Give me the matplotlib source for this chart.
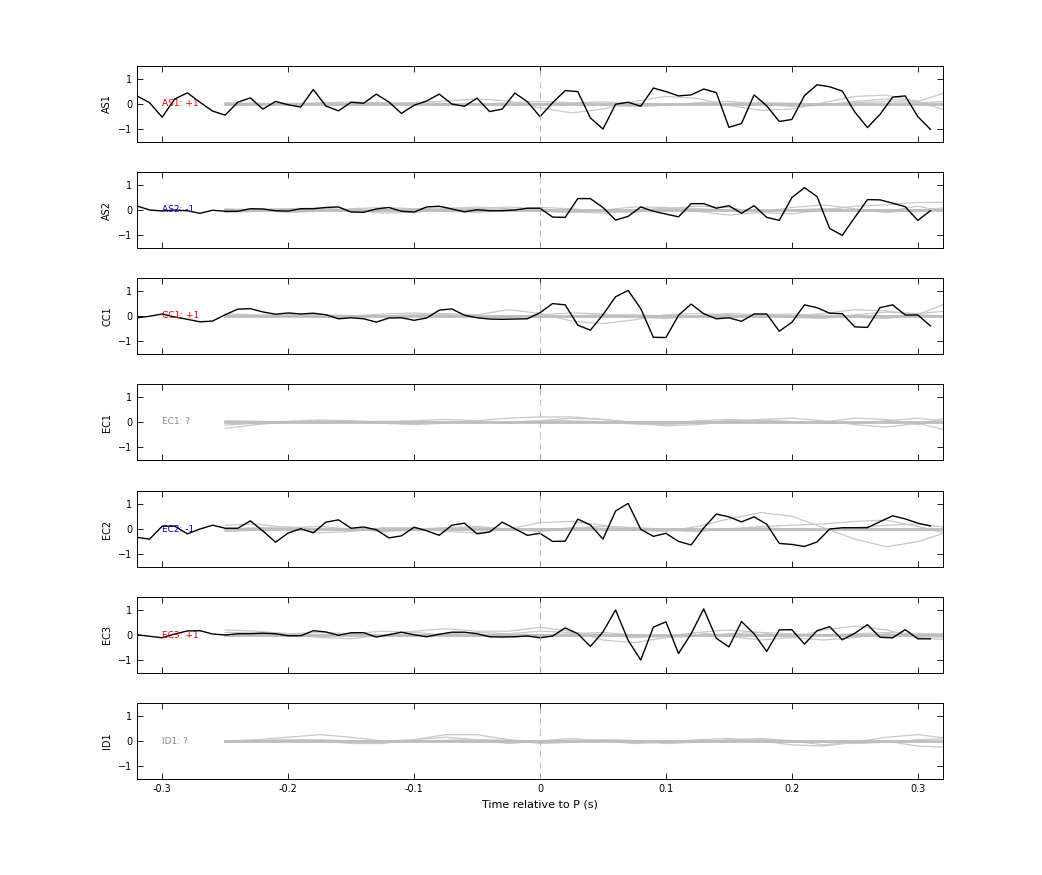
import numpy as np
import matplotlib.pyplot as plt

# black traces, one sample every 0.01 s from -0.32 to 0.31
t = np.round(np.arange(-0.32, 0.315, 0.01), 3)
gt = np.round(np.arange(-0.25, 0.33, 0.025), 3)   # grid for the grey traces

stations = ["AS1", "AS2", "CC1", "EC1", "EC2", "EC3", "ID1"]
labels = ["AS1: +1", "AS2: -1", "CC1: +1", "EC1: ?", "EC2: -1", "EC3: +1", "ID1: ?"]
label_colors = ["#dd0000", "#0000cc", "#dd0000", "#888888", "#0000cc", "#dd0000", "#888888"]

as1 = [0.32, 0.05, -0.52, 0.2, 0.44, 0.07, -0.28, -0.44, 0.07, 0.24, -0.2, 0.1, -0.03, -0.12, 0.57, -0.08,
       -0.27, 0.07, 0.03, 0.39, 0.08, -0.37, -0.05, 0.12, 0.39, 0.0, -0.09, 0.23, -0.3, -0.2, 0.43, 0.09,
       -0.5, 0.05, 0.53, 0.49, -0.55, -0.99, -0.01, 0.07, -0.09, 0.63, 0.49, 0.32, 0.36, 0.59, 0.45, -0.92,
       -0.77, 0.36, -0.07, -0.69, -0.61, 0.33, 0.76, 0.68, 0.51, -0.32, -0.93, -0.41, 0.27, 0.32, -0.5, -1.0]
as2 = [0.16, 0.0, -0.04, 0.0, -0.03, -0.13, -0.01, -0.05, -0.05, 0.05, 0.04, -0.03, -0.04, 0.05, 0.05, 0.1,
       0.12, -0.08, -0.09, 0.04, 0.1, -0.05, -0.08, 0.12, 0.15, 0.04, -0.07, 0.01, -0.03, -0.03, 0.0, 0.07,
       0.07, -0.28, -0.29, 0.45, 0.45, 0.1, -0.4, -0.25, 0.12, -0.05, -0.16, -0.27, 0.25, 0.25, 0.07, 0.17,
       -0.13, 0.17, -0.29, -0.41, 0.49, 0.88, 0.53, -0.73, -1.0, -0.29, 0.41, 0.4, 0.27, 0.13, -0.41, -0.03]
cc1 = [-0.07, -0.01, 0.08, -0.04, -0.13, -0.23, -0.2, 0.05, 0.27, 0.29, 0.16, 0.07, 0.12, 0.08, 0.11, 0.05,
       -0.11, -0.07, -0.11, -0.24, -0.08, -0.07, -0.17, -0.08, 0.23, 0.28, 0.03, -0.07, -0.12, -0.13, -0.12, -0.11,
       0.13, 0.49, 0.44, -0.36, -0.56, 0.05, 0.76, 1.01, 0.29, -0.84, -0.85, 0.03, 0.47, 0.09, -0.11, -0.07,
       -0.21, 0.08, 0.08, -0.6, -0.25, 0.44, 0.33, 0.11, 0.09, -0.43, -0.45, 0.33, 0.44, 0.04, 0.04, -0.39]
ec2 = [-0.33, -0.4, 0.11, 0.11, -0.19, 0.0, 0.15, 0.03, 0.03, 0.32, -0.08, -0.52, -0.16, 0.01, -0.15, 0.27,
       0.36, 0.03, 0.08, -0.03, -0.35, -0.27, 0.07, -0.07, -0.25, 0.15, 0.23, -0.19, -0.12, 0.27, 0.01, -0.25,
       -0.17, -0.49, -0.48, 0.39, 0.16, -0.4, 0.71, 1.01, -0.01, -0.29, -0.17, -0.49, -0.63, 0.04, 0.59, 0.48,
       0.28, 0.48, 0.19, -0.57, -0.61, -0.69, -0.51, 0.0, 0.05, 0.05, 0.05, 0.29, 0.52, 0.4, 0.23, 0.12]
ec3 = [0.01, -0.05, -0.11, 0.04, 0.16, 0.17, 0.04, 0.0, 0.05, 0.05, 0.07, 0.05, -0.03, -0.03, 0.17, 0.12,
       -0.01, 0.09, 0.09, -0.08, 0.01, 0.11, 0.01, -0.07, 0.03, 0.11, 0.11, 0.05, -0.07, -0.08, -0.07, -0.04,
       -0.11, -0.04, 0.28, 0.05, -0.45, 0.12, 0.99, -0.21, -0.99, 0.31, 0.52, -0.73, 0.05, 1.03, -0.13, -0.47,
       0.53, 0.05, -0.65, 0.2, 0.21, -0.36, 0.17, 0.33, -0.19, 0.07, 0.41, -0.09, -0.11, 0.21, -0.15, -0.15]
black = [as1, as2, cc1, None, ec2, ec3, None]

# grey traces (other events), sampled every 0.025 s from -0.25
grey = {
    "AS1": [[0.0, 0.02, 0.03, 0.0, -0.05, -0.02, 0.05, 0.12, 0.2, 0.12, -0.15, -0.35, -0.2, 0.1, 0.3, 0.22, -0.05, -0.25, -0.2, 0.05, 0.3, 0.35, 0.1, -0.3],
            [-0.05, -0.03, 0.0, 0.05, 0.08, 0.05, 0.0, -0.05, -0.02, 0.05, 0.1, 0.05, -0.05, -0.1, -0.05, 0.05, 0.1, 0.0, -0.1, -0.05, 0.1, 0.2, 0.1, 0.5],
            [0.05, 0.03, 0.0, -0.02, 0.0, 0.03, 0.05, 0.02, -0.03, -0.05, 0.0, 0.05, 0.08, 0.03, -0.02, -0.03, 0.02, 0.05, 0.03, 0.0, 0.05, 0.1, 0.05, 0.1]],
    "AS2": [[0.05, 0.0, -0.1, -0.05, 0.05, 0.1, 0.05, -0.05, -0.1, 0.0, 0.1, 0.05, -0.05, -0.1, 0.05, 0.15, 0.1, -0.1, -0.15, 0.0, 0.15, 0.2, 0.3, 0.3],
            [-0.1, -0.05, 0.05, 0.08, 0.0, -0.12, -0.1, 0.05, 0.12, 0.05, -0.05, -0.1, 0.0, 0.12, 0.1, -0.05, -0.2, -0.1, 0.1, 0.2, 0.05, -0.1, 0.0, 0.1],
            [0.0, 0.03, 0.05, 0.0, -0.05, 0.0, 0.05, 0.08, 0.05, 0.12, 0.05, -0.08, -0.12, -0.02, 0.08, 0.05, 0.0, -0.05, 0.0, 0.05, 0.0, -0.05, 0.15, -0.1]],
    "CC1": [[0.0, 0.02, 0.05, 0.02, -0.03, 0.0, 0.05, 0.1, 0.05, 0.25, 0.1, -0.2, -0.3, -0.15, 0.05, 0.1, 0.05, -0.05, 0.0, 0.1, 0.25, 0.2, 0.05, 0.55],
            [0.08, 0.05, 0.0, -0.05, 0.0, 0.08, 0.12, 0.05, -0.05, -0.05, 0.05, 0.12, 0.08, -0.05, -0.1, 0.0, 0.1, 0.05, -0.05, -0.1, 0.05, 0.15, 0.1, 0.2],
            [-0.05, 0.0, 0.03, 0.05, 0.02, -0.02, 0.0, 0.03, 0.02, 0.0, -0.03, 0.0, 0.05, 0.05, 0.0, -0.05, 0.0, 0.05, 0.08, 0.03, -0.05, -0.1, 0.05, 0.0]],
    "EC1": [[-0.25, -0.1, 0.0, 0.05, 0.0, -0.05, -0.1, -0.05, 0.05, 0.15, 0.2, 0.2, 0.1, -0.05, -0.15, -0.1, 0.0, 0.1, 0.15, 0.05, -0.1, -0.2, -0.05, -0.35],
            [-0.12, -0.05, 0.03, 0.08, 0.05, 0.0, 0.05, 0.1, 0.05, -0.05, 0.05, 0.15, 0.1, 0.0, -0.05, 0.05, 0.1, 0.05, -0.05, 0.0, 0.15, 0.1, -0.1, 0.2],
            [0.05, 0.03, 0.0, -0.02, 0.0, 0.03, 0.02, 0.0, -0.03, 0.0, 0.05, 0.05, 0.0, -0.08, -0.1, -0.03, 0.05, 0.08, 0.02, -0.05, -0.05, 0.05, 0.15, 0.0]],
    "EC2": [[0.15, 0.2, 0.05, -0.15, -0.1, 0.05, 0.05, -0.1, -0.15, 0.0, 0.25, 0.3, 0.15, -0.05, -0.1, 0.1, 0.4, 0.65, 0.5, 0.05, -0.4, -0.7, -0.5, -0.1],
            [-0.1, -0.05, 0.05, 0.1, 0.0, -0.1, -0.05, 0.05, 0.1, 0.0, -0.1, 0.0, 0.1, 0.05, -0.05, -0.1, 0.0, 0.1, 0.15, 0.2, 0.3, 0.35, 0.1, -0.2],
            [0.0, 0.05, 0.08, 0.0, -0.05, -0.05, 0.0, 0.05, 0.05, 0.0, -0.05, 0.05, 0.1, 0.05, 0.0, -0.05, 0.0, 0.05, 0.0, -0.05, 0.05, 0.15, 0.2, 0.05]],
    "EC3": [[0.2, 0.15, 0.05, -0.1, -0.15, 0.0, 0.15, 0.25, 0.15, 0.15, 0.3, 0.15, -0.2, -0.3, -0.1, 0.1, -0.05, -0.2, -0.1, 0.2, 0.35, 0.2, -0.1, -0.2],
            [0.1, 0.1, 0.05, 0.0, 0.05, 0.15, 0.1, 0.0, -0.05, 0.05, 0.15, 0.1, 0.0, -0.1, -0.05, 0.1, 0.2, 0.1, -0.1, -0.2, -0.1, 0.05, -0.05, -0.1],
            [-0.05, 0.0, 0.05, 0.1, 0.05, -0.05, -0.05, 0.05, 0.1, 0.05, 0.0, 0.05, 0.1, 0.0, -0.1, -0.05, 0.05, 0.1, 0.05, 0.0, 0.05, 0.1, 0.05, 0.05]],
    "ID1": [[0.0, 0.05, 0.15, 0.25, 0.15, 0.0, 0.05, 0.25, 0.25, 0.05, -0.1, -0.05, 0.05, 0.0, -0.1, -0.05, 0.05, 0.1, 0.0, -0.15, -0.05, 0.15, 0.25, 0.1],
            [-0.05, 0.0, 0.05, 0.0, -0.1, -0.1, 0.05, 0.15, 0.05, -0.1, 0.0, 0.1, 0.0, -0.1, -0.05, 0.05, 0.1, 0.0, -0.15, -0.2, -0.05, 0.0, -0.2, -0.25],
            [0.0, 0.02, 0.05, 0.05, 0.0, -0.03, 0.0, 0.03, 0.05, 0.03, 0.0, 0.03, 0.05, 0.02, -0.03, -0.02, 0.03, 0.05, 0.02, -0.05, -0.1, -0.05, 0.05, 0.1]],
}

fig = plt.figure(figsize=(10.42, 8.75), dpi=100)
left, width, h = 137 / 1042, 806 / 1042, 76 / 875
bottoms_px = [142, 248, 354, 460, 567, 673, 779]

for i, st in enumerate(stations):
    ax = fig.add_axes([left, 1 - bottoms_px[i] / 875, width, h])
    for g in grey[st]:
        ax.plot(gt, g, color="#c8c8c8", lw=0.9)
    ax.plot([-0.25, 0.32], [0, 0], color="#bdbdbd", lw=2)
    if black[i] is not None:
        ax.plot(t, black[i], color="black", lw=1.0)
    ax.axvline(0, color="#e0a0a0", lw=0.6, ls=(0, (8, 5)))
    ax.text(-0.3, 0, labels[i], color=label_colors[i], fontsize=6.5, va="center")
    ax.set_xlim(-0.32, 0.32)
    ax.set_ylim(-1.5, 1.5)
    ax.set_yticks([-1, 0, 1])
    ax.set_xticks([-0.3, -0.2, -0.1, 0, 0.1, 0.2, 0.3])
    ax.tick_params(direction="in", top=True, right=True, labelsize=7, length=4, width=0.6)
    for s in ax.spines.values():
        s.set_linewidth(0.7)
    ax.set_ylabel(st, fontsize=7)
    if i < len(stations) - 1:
        ax.set_xticklabels([])
    else:
        ax.set_xticklabels(["-0.3", "-0.2", "-0.1", "0", "0.1", "0.2", "0.3"])
        ax.set_xlabel("Time relative to P (s)", fontsize=8)

fig.savefig("out.png", dpi=100)
